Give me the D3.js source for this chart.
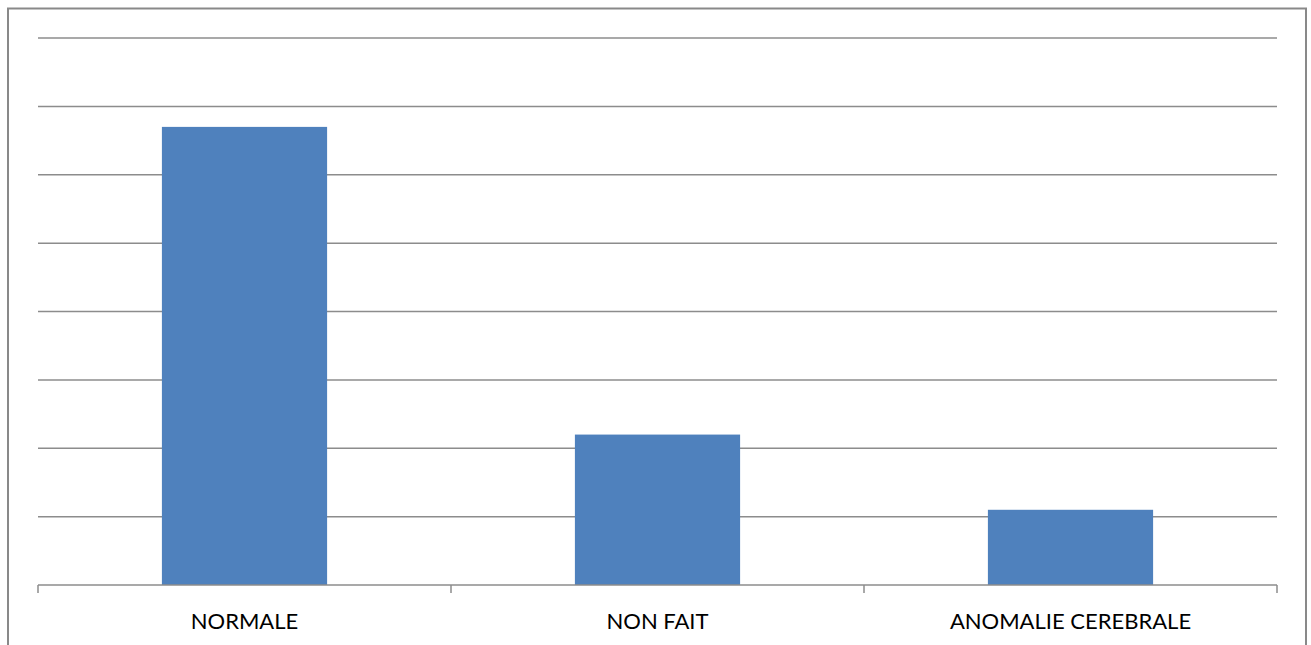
<!DOCTYPE html>
<html>
<head>
<meta charset="utf-8">
<script src="https://cdn.jsdelivr.net/npm/d3@7"></script>
<style>
  html, body { margin: 0; padding: 0; background: #fff; }
  svg { display: block; }
</style>
</head>
<body>
<svg id="chart" width="1311" height="645"></svg>
<script>
// Results by category (percent)
const categories = ["NORMALE", "NON FAIT", "ANOMALIE CEREBRALE"];
const values = [67, 22, 11];
const yTicks = [0, 10, 20, 30, 40, 50, 60, 70, 80];

const svg = d3.select("#chart");
const W = 1311, H = 645;
const plot = { left: 38, right: 1277, top: 38, bottom: 585 };

// Outer frame (bottom edge falls outside the view)
svg.append("rect")
  .attr("x", 8).attr("y", 8.5)
  .attr("width", 1298).attr("height", 660)
  .attr("fill", "#fff")
  .attr("stroke", "#898989")
  .attr("stroke-width", 2);

const x = d3.scaleBand()
  .domain(categories)
  .range([plot.left, plot.right])
  .paddingInner(0.6)
  .paddingOuter(0.3);

const y = d3.scaleLinear()
  .domain([0, 80])
  .range([plot.bottom, plot.top]);

// Horizontal gridlines
svg.append("g")
  .selectAll("line")
  .data(yTicks.filter(d => d > 0))
  .join("line")
  .attr("x1", plot.left).attr("x2", plot.right)
  .attr("y1", d => y(d)).attr("y2", d => y(d))
  .attr("stroke", "#8c8c8c")
  .attr("stroke-width", 1.5);

// Bars
svg.append("g")
  .selectAll("rect")
  .data(values)
  .join("rect")
  .attr("x", (d, i) => x(categories[i]))
  .attr("width", x.bandwidth())
  .attr("y", d => y(d))
  .attr("height", d => y(0) - y(d))
  .attr("fill", "#4F81BD");

// Category axis: baseline, boundary ticks and labels
const step = x.step();
const bounds = d3.range(categories.length + 1).map(i => plot.left + i * (plot.right - plot.left) / categories.length);
const axis = svg.append("g");
axis.append("line")
  .attr("x1", plot.left).attr("x2", plot.right)
  .attr("y1", y(0)).attr("y2", y(0))
  .attr("stroke", "#8c8c8c")
  .attr("stroke-width", 1.5);
axis.selectAll("line.tick")
  .data(bounds)
  .join("line")
  .attr("class", "tick")
  .attr("x1", d => d).attr("x2", d => d)
  .attr("y1", y(0)).attr("y2", y(0) + 8)
  .attr("stroke", "#8c8c8c")
  .attr("stroke-width", 1.5);
axis.selectAll("text")
  .data(categories)
  .join("text")
  .attr("x", d => x(d) + x.bandwidth() / 2)
  .attr("y", 629)
  .attr("text-anchor", "middle")
  .attr("font-family", "Lato, 'Open Sans', sans-serif")
  .attr("font-size", 22)
  .attr("fill", "#000")
  .text(d => d);
</script>
</body>
</html>
